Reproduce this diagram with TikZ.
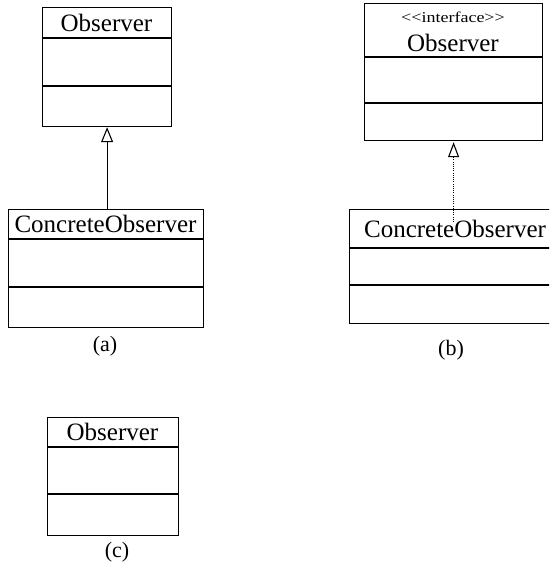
\documentclass[tikz,border=0pt]{standalone}
\usepackage{fontspec}
\setmainfont{Liberation Serif}
\usetikzlibrary{arrows.meta}
\begin{document}
\begin{tikzpicture}[x=1pt,y=-1pt,
  classbox/.style={draw, line width=1.2pt, inner sep=0pt, anchor=north west},
  sep/.style={line width=1.2pt},
  cname/.style={inner sep=0pt, font=\fontsize{25}{30}\selectfont},
  stereo/.style={inner sep=0pt, font=\fontsize{15}{18}\selectfont},
  caption/.style={inner sep=0pt, font=\fontsize{22}{26}\selectfont},
  gen/.style={line width=1.1pt, -{Triangle[open, length=15pt, width=12pt, line width=1.1pt]}},
  real/.style={line width=1.1pt, dash pattern=on 1.1pt off 1.1pt,
    -{Triangle[open, length=15pt, width=11pt, line width=1.1pt, sep=1pt]}}]
\useasboundingbox (0,0) rectangle (549,567);
\clip (0,0) rectangle (549,567);

% (a) class and subclass
\node[classbox, minimum width=129pt, minimum height=119pt] (oa) at (42,7) {};
\draw[sep] (oa.west |- 0,38) -- (oa.east |- 0,38);
\draw[sep] (oa.west |- 0,86) -- (oa.east |- 0,86);
\node[cname] (oaname) at (106.5,22.5) {Observer};

\node[classbox, minimum width=195pt, minimum height=118pt] (ca) at (8,209) {};
\draw[sep] (ca.west |- 0,239) -- (ca.east |- 0,239);
\draw[sep] (ca.west |- 0,287) -- (ca.east |- 0,287);
\node[cname] (caname) at (105.5,224) {ConcreteObserver};

\draw[gen] (oa.south |- ca.north) -- (oa.south);
\node[caption] (capa) at (105,346) {(a)};

% (b) interface and implementing class
\node[classbox, minimum width=178pt, minimum height=137pt] (ob) at (364,3) {};
\draw[sep] (ob.west |- 0,57) -- (ob.east |- 0,57);
\draw[sep] (ob.west |- 0,103) -- (ob.east |- 0,103);
\node[stereo] (obstereo) at (453,17) {\scalebox{1.2}[1]{{<}{<}interface{>}{>}}};
\node[cname] (obname) at (453,43) {Observer};

\node[classbox, minimum width=215pt, minimum height=114pt] (cb) at (349,209) {};
\draw[sep] (cb.west |- 0,248) -- (cb.east |- 0,248);
\draw[sep] (cb.west |- 0,285) -- (cb.east |- 0,285);
\node[cname] (cbname) at (455,228.5) {ConcreteObserver};

\coordinate (cbin) at ([yshift=-13pt]ob.south |- cb.north);
\draw[real] (cbin) -- (ob.south);
\node[caption] (capb) at (451,350) {(b)};

% (c) single class
\node[classbox, minimum width=131pt, minimum height=118pt] (oc) at (47,417) {};
\draw[sep] (oc.west |- 0,447) -- (oc.east |- 0,447);
\draw[sep] (oc.west |- 0,494) -- (oc.east |- 0,494);
\node[cname] (ocname) at (112.5,432) {Observer};
\node[caption] (capc) at (117,552) {(c)};
\end{tikzpicture}
\end{document}
